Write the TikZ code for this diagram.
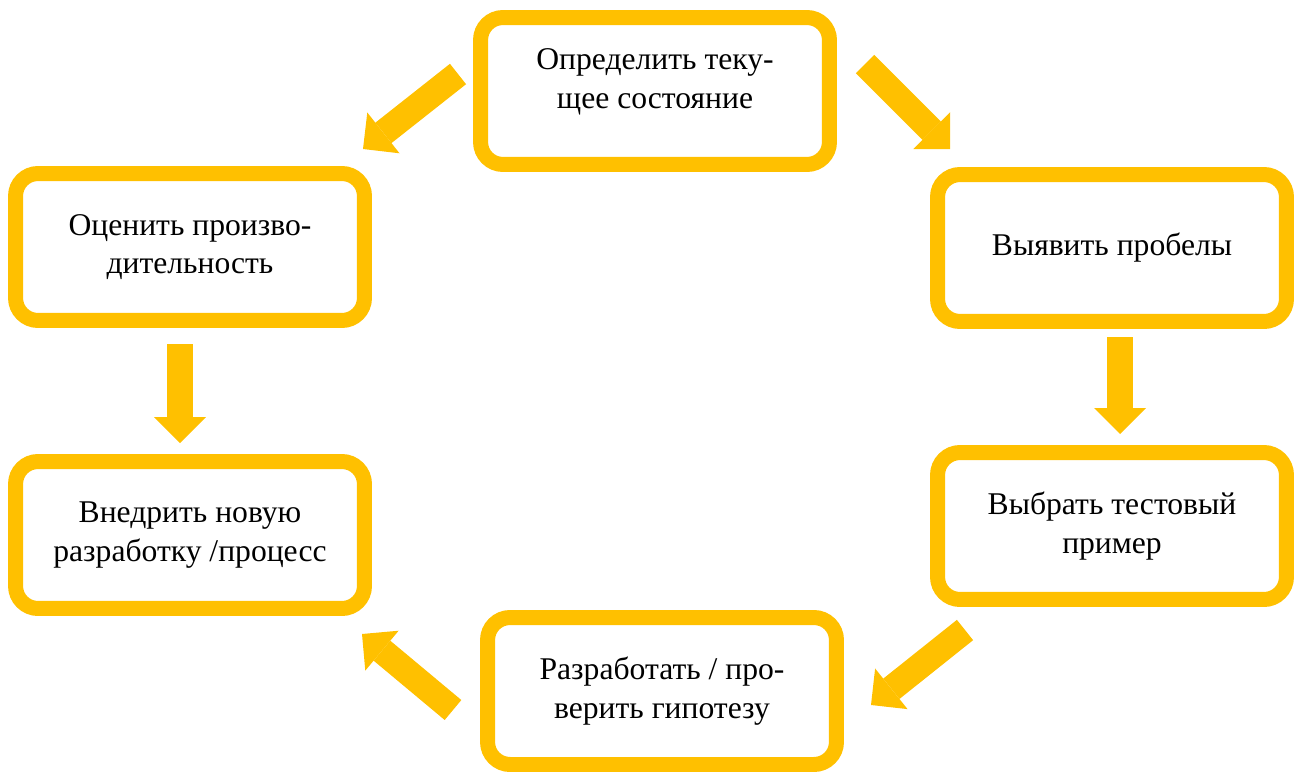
\documentclass[tikz,border=0pt]{standalone}
\usepackage{fontspec}
\setmainfont{Liberation Serif}
\newfontfamily\stagefont{Liberation Serif}
\usetikzlibrary{arrows.meta,calc}
\definecolor{Amber}{HTML}{FFC000}

\begin{document}
\begin{tikzpicture}[x=0.02cm,y=-0.02cm,
    stage/.style={rounded corners=0.45cm,draw=Amber,line width=0.3cm,fill=white,
      minimum width=6.98cm,minimum height=2.94cm,align=center,inner sep=0pt,
      font=\stagefont\fontsize{18}{22}\selectfont,text=black},
    flow/.style={Amber,line width=0.52cm,
      -{Triangle[length=0.52cm,width=1.04cm,line width=0pt]}}]
  \useasboundingbox (0,0) rectangle (1294,771);
  % the six stages
  \node[stage,text depth=0.5cm] (define) at (655,91) {Определить теку-\\щее состояние};
  \node[stage] (gaps) at (1112,248) {Выявить пробелы};
  \node[stage] (testcase) at (1112,526) {Выбрать тестовый\\пример};
  \node[stage] (hypothesis) at (662,691) {Разработать / про-\\верить гипотезу};
  \node[stage] (deploy) at (190,535) {Внедрить новую\\разработку /процесс};
  \node[stage] (assess) at (190,247) {Оценить произво-\\дительность};
  % block arrows between them
  \coordinate (defineOut) at (865,64);   \coordinate (gapsIn) at (950,149);
  \coordinate (gapsOut) at (1120,337);   \coordinate (testcaseIn) at (1120,434);
  \coordinate (testcaseOut) at (965,630); \coordinate (hypothesisIn) at (871,705);
  \coordinate (hypothesisOut) at (453,710); \coordinate (deployIn) at (362,634);
  \coordinate (assessOut) at (180,344);  \coordinate (deployTop) at (180,443);
  \coordinate (defineLeft) at (458,74);  \coordinate (assessIn) at (363,149);
  \draw[flow] (defineOut) -- (gapsIn);
  \draw[flow] (gapsOut) -- (testcaseIn);
  \draw[flow] (testcaseOut) -- (hypothesisIn);
  \draw[flow] (hypothesisOut) -- (deployIn);
  \draw[flow] (assessOut) -- (deployTop);
  \draw[flow] (defineLeft) -- (assessIn);
\end{tikzpicture}
\end{document}
